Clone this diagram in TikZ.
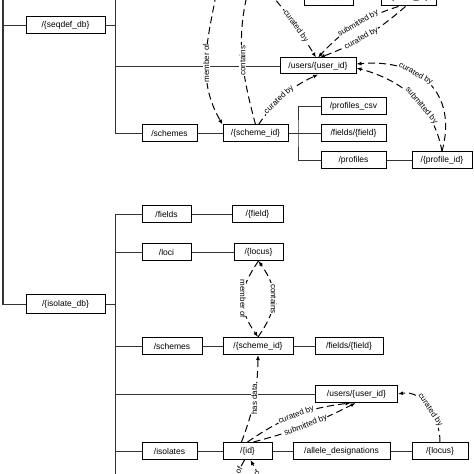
\documentclass[tikz,border=0pt]{standalone}
\usepackage{fontspec}
\setmainfont{Liberation Sans}
\usepackage{tikz}
\usetikzlibrary{arrows.meta}
\usetikzlibrary{positioning}
\tikzset{
    mybox/.style = {draw=black, line width=1pt, fill=white, minimum height=17pt, inner sep=1pt, font=\fontsize{8.5}{9}\selectfont},
    edget/.style = {-, draw=black!80, line width=0.9pt},
    edgea/.style = {-{Latex[length=5pt,width=4pt]}, dash pattern=on 7pt off 4pt, line width=1pt},
    lab/.style = {fill=white, inner sep=0.6pt, font=\fontsize{8}{8}\selectfont},
}

\begin{document}
\begin{tikzpicture}[x=1pt,y=1pt]
\useasboundingbox (0,0) rectangle (474,474);
\clip (0,0) rectangle (474,474);
% seqdef side
\node[mybox, minimum width=79pt] at (65.5,448.5) (seqdef) {/\{seqdef\_db\}};
\node[mybox, minimum width=49pt] at (329,476.5) (alleles) {/alleles};
\node[mybox, minimum width=55pt] at (408.5,476.5) (alleleid) {/\{allele\_id\}};
\node[mybox, minimum width=76pt, minimum height=16pt] at (318,408) (users1) {/users/\{user\_id\}};
\node[mybox, minimum width=55pt] at (169.5,340.5) (schemes1) {/schemes};
\node[mybox, minimum width=65pt] at (255.5,340.5) (schemeid1) {/\{scheme\_id\}};
\node[mybox, minimum width=65pt] at (353.5,368) (pcsv) {/profiles\_csv};
\node[mybox, minimum width=65pt] at (353.5,340.5) (fieldsf1) {/fields/\{field\}};
\node[mybox, minimum width=65pt] at (353.5,313.5) (profiles) {/profiles};
\node[mybox, minimum width=60pt] at (442,313.5) (profileid) {/\{profile\_id\}};
% isolate side
\node[mybox, minimum width=79pt, minimum height=19pt] at (65.5,169.5) (isolatedb) {/\{isolate\_db\}};
\node[mybox, minimum width=49pt] at (166.5,259.5) (fields) {/fields};
\node[mybox, minimum width=51pt] at (257.5,259.5) (field) {/\{field\}};
\node[mybox, minimum width=49pt] at (166.5,222) (loci) {/loci};
\node[mybox, minimum width=49pt] at (258.5,222) (locus) {/\{locus\}};
\node[mybox, minimum width=60pt] at (172,128) (schemes2) {/schemes};
\node[mybox, minimum width=70pt] at (258,128) (schemeid2) {/\{scheme\_id\}};
\node[mybox, minimum width=68pt] at (349,128) (fieldsf2) {/fields/\{field\}};
\node[mybox, minimum width=82pt] at (356.5,80) (users2) {/users/\{user\_id\}};
\node[mybox, minimum width=55pt] at (169.5,23) (isolates) {/isolates};
\node[mybox, minimum width=49pt] at (247.5,23) (id) {/\{id\}};
\node[mybox, minimum width=97pt] at (341.5,23) (alleled) {/allele\_designations};
\node[mybox, minimum width=56pt] at (440,23) (locus2) {/\{locus\}};

\coordinate (rt) at (3,490);
\coordinate (st) at (115,490);
\coordinate (pt) at (298,340.5);
\coordinate (it) at (115,-20);
\draw[edget, line width=1.3pt] (rt) |- (isolatedb.west);
\draw[edget, line width=1.3pt] (seqdef.west) -- (seqdef.west -| rt);
\draw[edget] (st) |- (schemes1.west);
\draw[edget] (seqdef.east) -- (seqdef.east -| st);
\draw[edget] (users1.west) -- (users1.west -| st);
\draw[edget] (schemes1) -- (schemeid1);
\draw[edget] (schemeid1) -- (fieldsf1);
\draw[edget] (pcsv.west) -| (pt) |- (profiles.west);
\draw[edget] (profiles) -- (profileid);
\draw[edget] (fields.west) -| (it);
\draw[edget] (isolatedb.east) -- (isolatedb.east -| it);
\draw[edget] (loci.west) -- (loci.west -| it);
\draw[edget] (schemes2.west) -- (schemes2.west -| it);
\draw[edget] (users2.west) -- (users2.west -| it);
\draw[edget] (isolates.west) -- (isolates.west -| it);
\draw[edget] (fields) -- (field);
\draw[edget] (loci) -- (locus);
\draw[edget] (schemes2) -- (schemeid2);
\draw[edget] (schemeid2) -- (fieldsf2);
\draw[edget] (isolates) -- (id);
\draw[edget] (id) -- (alleled);
\draw[edget] (alleled) -- (locus2);

% links between resources
\coordinate (la) at (218,490);
\coordinate (lb) at (250,490);
\coordinate (lc) at (262,490);
\draw[edgea] (la) to[out=-100,in=120] node[lab,rotate=90,pos=0.55] {member of} (schemeid1.north west);
\draw[edgea] (schemeid1.north) to[out=105,in=-105] node[lab,rotate=90,pos=0.45] {contains} (lb);
\draw[edgea] (lc) to[bend left=5] node[lab,sloped,pos=0.6] {curated by} ([xshift=-2pt]users1.north);
\draw[edgea] ([xshift=-10pt]alleleid.south) to[bend right=15] node[lab,sloped,pos=0.45] {submitted by} (users1.north);
\draw[edgea] ([xshift=-3pt]alleleid.south) to[bend left=10] node[lab,sloped,pos=0.55] {curated by} ([xshift=2pt]users1.north);
\draw[edgea] ([xshift=3pt]schemeid1.north) to[bend left=15] node[lab,sloped,pos=0.4] {curated by} (users1.south);
\draw[edgea] (profileid.north) to[out=75,in=5,looseness=1.3] node[lab,sloped,pos=0.62] {curated by} ([yshift=2pt]users1.east);
\draw[edgea] (profileid.north) to[out=100,in=-15] node[lab,sloped,pos=0.4] {submitted by} ([yshift=-2pt]users1.east);

\draw[edgea] (locus.south) to[out=-125,in=125,looseness=1.2] node[lab,rotate=-90] {member of} (schemeid2.north);
\draw[edgea] (schemeid2.north) to[out=55,in=-55,looseness=1.2] node[lab,rotate=-90] {contains} (locus.south);
\draw[edgea] ([xshift=-6pt]id.north) to[bend right=10] node[lab,rotate=90] {has data} (schemeid2.south);
\draw[edgea] ([xshift=0pt]id.north) to[bend left=14] node[lab,sloped,pos=0.5] {curated by} ([xshift=-6pt]users2.south);
\draw[edgea] ([xshift=6pt]id.north) to[bend right=6] node[lab,sloped,pos=0.5] {submitted by} ([xshift=-1pt]users2.south);
\draw[edgea] (locus2.north) to[out=90,in=10] node[lab,sloped,pos=0.45] {curated by} (users2.east);

\coordinate (qa) at (215,-40);
\coordinate (qb) at (280,-40);
\draw[edgea] ([xshift=-3pt]id.south) to node[lab,sloped,pos=0.45] {member of} (qa);
\draw[edgea] (qb) to node[lab,sloped,pos=0.55] {contains} ([xshift=3pt]id.south);
\end{tikzpicture}
\end{document}
